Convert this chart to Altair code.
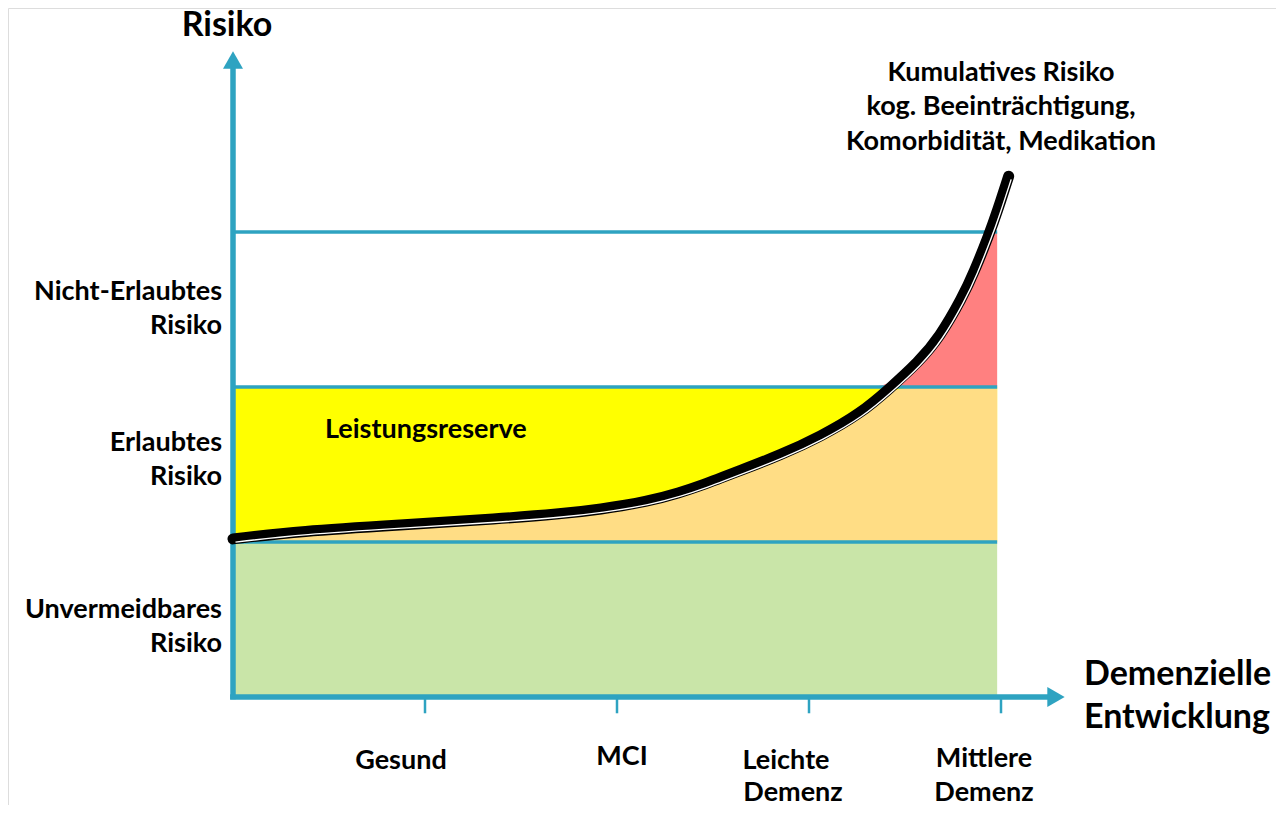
import altair as alt
import pandas as pd

# ---------------- data ----------------
# cumulative risk curve: x = dementia stage axis (ticks at 1..4), y = risk level (band edges at 1, 2, 3)
curve_x = [0.00, 0.35, 0.87, 1.39, 1.70, 1.91, 2.16, 2.33, 2.43, 2.64, 2.85, 3.06, 3.27,
           3.42, 3.57, 3.68, 3.80, 3.86, 3.94, 3.98, 4.04]
curve_y = [1.02, 1.07, 1.11, 1.15, 1.18, 1.21, 1.26, 1.32, 1.36, 1.46, 1.56, 1.68, 1.83,
           1.99, 2.16, 2.32, 2.58, 2.74, 2.99, 3.13, 3.36]

band_end = 3.98                 # right end of the coloured bands
band_levels = [1, 2, 3]         # horizontal band boundaries
stage_ticks = [1, 2, 3, 4]

risk_labels = ["Nicht-Erlaubtes", "Risiko", "Erlaubtes", "Risiko", "Unvermeidbares", "Risiko"]
stage_labels = ["Gesund", "MCI", "Leichte", "Demenz", "Mittlere", "Demenz"]
note_lines = ["Kumulatives Risiko", "kog. Beeinträchtigung,", "Komorbidität, Medikation"]
axis_title_x = ["Demenzielle", "Entwicklung"]
axis_title_y = "Risiko"
reserve_label = "Leistungsreserve"

# ---------------- layout ----------------
W, H = 1268, 797
PXX, PXY = 192.0, 155.0          # pixels per data unit
OX, OY = 225.0, 689.0            # pixel position of the origin inside the view
x_dom = [-OX / PXX, (W - OX) / PXX]
y_dom = [-(H - OY) / PXY, OY / PXY]
xs = alt.Scale(domain=x_dom, nice=False, zero=False)
ys = alt.Scale(domain=y_dom, nice=False, zero=False)


def px_x(px):
    return (px - 8 - OX) / PXX


def px_y(py):
    return (OY - (py - 8)) / PXY


FONT = "Lato"
BLUE = "#2EA3C1"
FS = 27
INTERP = "basis"


def X(f="x"):
    return alt.X(f"{f}:Q", scale=xs, axis=None)


def Y(f="y"):
    return alt.Y(f"{f}:Q", scale=ys, axis=None)


# ---------------- bands ----------------
bands = pd.DataFrame({
    "x": [0, 0], "x2": [band_end, band_end],
    "y": [0, 1], "y2": [1, 2],
    "c": ["#C9E5A8", "#FFFF00"],
})
band_layer = alt.Chart(bands).mark_rect().encode(
    x=X(), x2="x2:Q", y=Y(), y2="y2:Q", color=alt.Color("c:N", scale=None)
)

curve = pd.DataFrame({"x": curve_x, "y": curve_y})

orange = alt.Chart(curve).transform_filter(alt.datum.x <= band_end).transform_calculate(
    lo="1", hi="clamp(datum.y, 1, 2)"
).mark_area(color="#FFDD85", interpolate=INTERP).encode(
    x=X(), y=Y("lo"), y2="hi:Q"
)
red = alt.Chart(curve).transform_filter(alt.datum.x <= band_end).transform_calculate(
    lo="2", hi="clamp(datum.y, 2, 3)"
).mark_area(color="#FF8080", interpolate=INTERP).encode(
    x=X(), y=Y("lo"), y2="hi:Q"
)

hlines = alt.Chart(pd.DataFrame({"y": band_levels, "x": [0] * 3, "x2": [band_end] * 3})).mark_rule(
    color=BLUE, strokeWidth=3.3
).encode(x=X(), x2="x2:Q", y=Y())

# ---------------- axes ----------------
yaxis = alt.Chart(pd.DataFrame({"x": [0], "y": [-0.015], "y2": [px_y(66)]})).mark_rule(
    color=BLUE, strokeWidth=5.5
).encode(x=X(), y=Y(), y2="y2:Q")
xaxis = alt.Chart(pd.DataFrame({"x": [-0.015], "x2": [px_x(1050)], "y": [0]})).mark_rule(
    color=BLUE, strokeWidth=5.5
).encode(x=X(), x2="x2:Q", y=Y())
ticks = alt.Chart(pd.DataFrame({"x": stage_ticks, "y": [0] * 4, "y2": [-0.105] * 4})).mark_rule(
    color=BLUE, strokeWidth=2.5
).encode(x=X(), y=Y(), y2="y2:Q")
arrow_up = alt.Chart(pd.DataFrame({"x": [0], "y": [px_y(60)]})).mark_point(
    shape="triangle-up", size=400, filled=True, color=BLUE, opacity=1
).encode(x=X(), y=Y())
arrow_right = alt.Chart(pd.DataFrame({"x": [px_x(1056)], "y": [0]})).mark_point(
    shape="triangle-right", size=400, filled=True, color=BLUE, opacity=1
).encode(x=X(), y=Y())

# ---------------- curve ----------------
black = alt.Chart(curve).mark_line(
    color="black", strokeWidth=11, strokeCap="round", interpolate=INTERP
).encode(x=X(), y=Y())
white = alt.Chart(curve).mark_line(
    color="white", strokeWidth=1.4, interpolate=INTERP, xOffset=2.5, yOffset=3.2
).encode(x=X(), y=Y())

# ---------------- texts ----------------
risk_pos_y = [292, 326, 443, 477, 610, 644]
risk_df = pd.DataFrame({"t": risk_labels, "x": [px_x(222)] * 6, "y": [px_y(p) for p in risk_pos_y]})
risk_text = alt.Chart(risk_df).mark_text(
    align="right", baseline="middle", font=FONT, fontWeight="bold", fontSize=FS
).encode(x=X(), y=Y(), text="t:N")

stage_pos = [(401, 761), (622, 757), (786, 761), (793, 793), (984, 759), (984, 793)]
stage_df = pd.DataFrame({"t": stage_labels,
                         "x": [px_x(p[0]) for p in stage_pos],
                         "y": [px_y(p[1]) for p in stage_pos]})
stage_text = alt.Chart(stage_df).mark_text(
    align="center", baseline="middle", font=FONT, fontWeight="bold", fontSize=FS
).encode(x=X(), y=Y(), text="t:N")

note_df = pd.DataFrame({"t": note_lines, "x": [px_x(1001)] * 3,
                        "y": [px_y(p) for p in [73, 107, 142]]})
note_text = alt.Chart(note_df).mark_text(
    align="center", baseline="middle", font=FONT, fontWeight="bold", fontSize=FS
).encode(x=X(), y=Y(), text="t:N")

xt_df = pd.DataFrame({"t": axis_title_x, "x": [px_x(1084)] * 2, "y": [px_y(675), px_y(718)]})
xt_text = alt.Chart(xt_df).mark_text(
    align="left", baseline="middle", font=FONT, fontWeight="bold", fontSize=34
).encode(x=X(), y=Y(), text="t:N")

yt_df = pd.DataFrame({"t": [axis_title_y], "x": [px_x(227)], "y": [px_y(26)]})
yt_text = alt.Chart(yt_df).mark_text(
    align="center", baseline="middle", font=FONT, fontWeight="bold", fontSize=34
).encode(x=X(), y=Y(), text="t:N")

res_df = pd.DataFrame({"t": [reserve_label], "x": [px_x(325)], "y": [px_y(430)]})
res_text = alt.Chart(res_df).mark_text(
    align="left", baseline="middle", font=FONT, fontWeight="bold", fontSize=FS
).encode(x=X(), y=Y(), text="t:N")

chart = alt.layer(
    band_layer, orange, red, hlines, ticks, yaxis, xaxis, arrow_up, arrow_right,
    black, white, risk_text, stage_text, note_text, xt_text, yt_text, res_text
).properties(
    width=W, height=H, autosize=alt.AutoSizeParams(type="none"), padding=0
).configure_view(strokeWidth=0, stroke="transparent").configure(background="white")

chart.save("out.html", embed_options={"renderer": "svg", "actions": False})
